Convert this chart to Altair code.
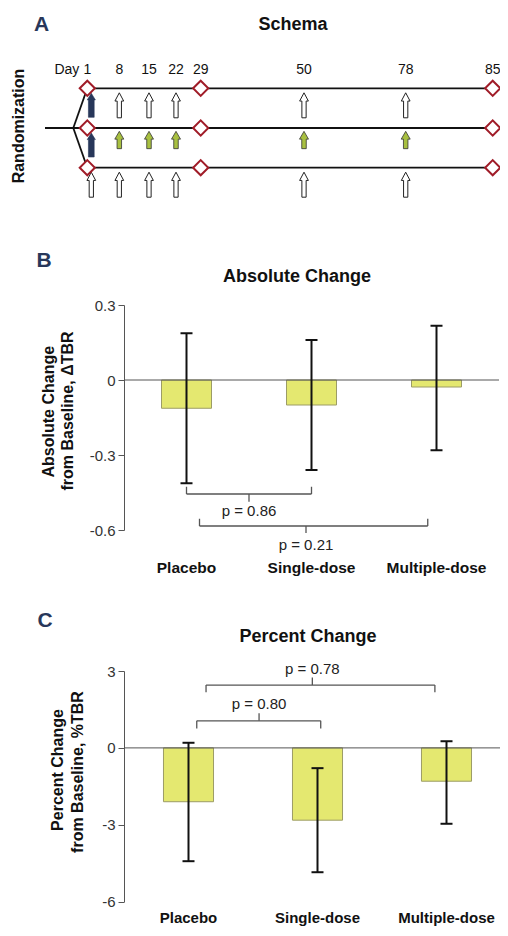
import altair as alt
import pandas as pd

FONT = "Liberation Sans"

# ---------------- Panel A: schema ----------------
schema_days = [1, 8, 15, 22, 29, 50, 78, 85]
arms = ["Single-dose", "Multiple-dose", "Placebo"]      # rows, top to bottom
assessment_days = [1, 29, 85]                            # diamonds
maintenance_days = [8, 15, 22, 50, 78]
loading_day = 1
randomization_day = -10
fork_day = -3

# ---------------- Panel B: absolute change ----------------
categories = ["Placebo", "Single-dose", "Multiple-dose"]
abs_mean = [-0.113, -0.100, -0.028]
abs_low = [-0.413, -0.360, -0.281]
abs_high = [0.187, 0.160, 0.217]
abs_ticks = [0.3, 0, -0.3, -0.6]
abs_p_text = ["p = 0.86", "p = 0.21"]
abs_p_from = [0.0, 0.104]
abs_p_to = [1.0, 1.93]
abs_p_mid = [0.5, 0.956]
abs_p_line = [-0.456, -0.584]
abs_p_end = [-0.427, -0.555]
abs_p_tick = [-0.487, -0.612]
abs_p_label = [-0.524, -0.66]

# ---------------- Panel C: percent change ----------------
pct_mean = [-2.10, -2.82, -1.30]
pct_low = [-4.42, -4.85, -2.96]
pct_high = [0.20, -0.79, 0.26]
pct_ticks = [3, 0, -3, -6]
pct_p_text = ["p = 0.80", "p = 0.78"]
pct_p_from = [0.064, 0.136]
pct_p_to = [1.025, 1.91]
pct_p_mid = [0.547, 0.96]
pct_p_line = [1.056, 2.45]
pct_p_end = [0.76, 2.17]
pct_p_tick = [1.35, 2.75]
pct_p_label = [1.70, 3.09]

# ---------------- styles ----------------
NAVY = "#28375a"
GREEN = "#a8c040"
RED = "#a01c28"
BAR = "#e4e870"
BAR_STROKE = "#9c9c66"
GRAY = "#555555"

WHITE_ARROW = "M-0.17,1 L-0.17,-0.34 L-0.35,-0.34 L0,-1 L0.35,-0.34 L0.17,-0.34 L0.17,1 Z"
GREEN_ARROW = "M-0.26,1 L-0.26,-0.1 L-0.52,-0.1 L0,-1 L0.52,-0.1 L0.26,-0.1 L0.26,1 Z"
NAVY_ARROW = "M-0.24,1 L-0.24,-0.45 L-0.34,-0.45 L0,-1 L0.34,-0.45 L0.24,-0.45 L0.24,1 Z"

# ---------------- Panel A ----------------
ax_scale = alt.Scale(domain=[randomization_day, fork_day] + schema_days,
                     range=[37, 65.3, 79.3, 111.3, 141, 168, 192.7, 296, 397.7, 484.7],
                     zero=False, nice=False)
ay_scale = alt.Scale(domain=[0, len(arms) - 1], range=[80.3, 159.7], zero=False, nice=False)


def AX(f):
    return alt.X(f"{f}:Q", scale=ax_scale, axis=None)


def AY(f):
    return alt.Y(f"{f}:Q", scale=ay_scale, axis=None)


lines_df = pd.DataFrame({
    "x": [loading_day, randomization_day, loading_day, fork_day, fork_day],
    "x2": [schema_days[-1], schema_days[-1], schema_days[-1], loading_day, loading_day],
    "y": [0, 1, 2, 1, 1],
    "y2": [0, 1, 2, 0, 2],
})
lines = alt.Chart(lines_df).mark_rule(color="#111111", strokeWidth=1.8).encode(
    x=AX("x"), x2="x2", y=AY("y"), y2="y2")

diam_df = pd.DataFrame([{"day": d, "row": r} for r in range(len(arms)) for d in assessment_days])
diamonds = alt.Chart(diam_df).mark_point(
    shape="diamond", size=230, filled=True, fill="white", stroke=RED,
    strokeWidth=2, opacity=1).encode(x=AX("day"), y=AY("row"))

white_df = pd.DataFrame([{"day": d, "row": r} for r in (0, 2) for d in maintenance_days])
white_arrows = alt.Chart(white_df).mark_point(
    shape=WHITE_ARROW, size=625, filled=True, fill="white", stroke="#222222",
    strokeWidth=1, opacity=1, yOffset=17).encode(x=AX("day"), y=AY("row"))

white1_df = pd.DataFrame({"day": [loading_day], "row": [2]})
white1_arrows = alt.Chart(white1_df).mark_point(
    shape=WHITE_ARROW, size=625, filled=True, fill="white", stroke="#222222",
    strokeWidth=1, opacity=1, yOffset=17, xOffset=4).encode(x=AX("day"), y=AY("row"))

green_df = pd.DataFrame({"day": maintenance_days, "row": [1] * len(maintenance_days)})
green_arrows = alt.Chart(green_df).mark_point(
    shape=GREEN_ARROW, size=300, filled=True, fill=GREEN, stroke="#333333",
    strokeWidth=0.8, opacity=1, yOffset=12).encode(x=AX("day"), y=AY("row"))

navy_df = pd.DataFrame({"day": [loading_day, loading_day], "row": [0, 1]})
navy_arrows = alt.Chart(navy_df).mark_point(
    shape=NAVY_ARROW, size=576, filled=True, fill=NAVY, stroke=NAVY,
    strokeWidth=0.6, opacity=1, yOffset=17, xOffset=4).encode(x=AX("day"), y=AY("row"))

days_df = pd.DataFrame({"day": schema_days, "row": [0] * len(schema_days),
                        "lab": [str(d) for d in schema_days]})
day_text = alt.Chart(days_df).mark_text(
    font=FONT, fontSize=14, color="#111111", baseline="middle", dy=-18).encode(
    x=AX("day"), y=AY("row"), text="lab:N")
day_word = alt.Chart(pd.DataFrame({"day": [loading_day], "row": [0]})).mark_text(
    font=FONT, fontSize=14, color="#111111", baseline="middle", align="right",
    dy=-18, dx=-8).encode(x=AX("day"), y=AY("row"), text=alt.value("Day"))

panel_a = alt.layer(lines, white_arrows, white1_arrows, green_arrows, navy_arrows,
                    diamonds, day_text, day_word)


# ---------------- Panels B and C ----------------
def bar_panel(mean, low, high, ticks, ptext, pfrom, pto, pmid, pline, pend, ptick,
              plabel, xs, ys, cat_y, half, cat_size):
    idx = list(range(len(categories)))
    bars_df = pd.DataFrame({"cat": categories, "i": idx, "mean": mean,
                            "low": low, "high": high})
    bars_df["l"] = bars_df["i"] - half
    bars_df["r"] = bars_df["i"] + half
    bars_df["zero"] = 0.0
    bars_df["laby"] = cat_y

    yax = alt.Axis(orient="left", offset=-116, values=ticks, labelExpr="'' + datum.value",
                   title=None, grid=False, domainColor=GRAY, tickColor=GRAY,
                   domainWidth=1, tickWidth=1, tickSize=6, labelPadding=3,
                   labelFont=FONT, labelFontSize=15, labelColor="#333333")

    def X(f):
        return alt.X(f"{f}:Q", scale=xs, axis=None)

    def Y(f):
        return alt.Y(f"{f}:Q", scale=ys, axis=yax)

    bars = alt.Chart(bars_df).mark_bar(fill=BAR, stroke=BAR_STROKE, strokeWidth=1).encode(
        x=X("l"), x2="r", y=Y("mean"), y2="zero")

    zero_df = pd.DataFrame({"a": [xs.domain[0]], "b": [xs.domain[1]], "y": [0]})
    zero = alt.Chart(zero_df).mark_rule(color=GRAY, strokeWidth=1).encode(
        x=X("a"), x2="b", y=Y("y"))

    err = alt.Chart(bars_df).mark_rule(color="#111111", strokeWidth=2).encode(
        x=X("i"), y=Y("low"), y2="high")
    cap_lo = alt.Chart(bars_df).mark_rule(color="#111111", strokeWidth=2,
                                          xOffset=-6, x2Offset=6).encode(
        x=X("i"), x2="i", y=Y("low"))
    cap_hi = alt.Chart(bars_df).mark_rule(color="#111111", strokeWidth=2,
                                          xOffset=-6, x2Offset=6).encode(
        x=X("i"), x2="i", y=Y("high"))

    p_df = pd.DataFrame({"txt": ptext, "from": pfrom, "to": pto, "mid": pmid,
                         "line": pline, "end": pend, "tick": ptick, "lab": plabel})
    br_style = dict(color=GRAY, strokeWidth=1.3)
    br_h = alt.Chart(p_df).mark_rule(**br_style).encode(x=X("from"), x2="to", y=Y("line"))
    br_l = alt.Chart(p_df).mark_rule(**br_style).encode(x=X("from"), y=Y("line"), y2="end")
    br_r = alt.Chart(p_df).mark_rule(**br_style).encode(x=X("to"), y=Y("line"), y2="end")
    br_m = alt.Chart(p_df).mark_rule(**br_style).encode(x=X("mid"), y=Y("line"), y2="tick")
    p_txt = alt.Chart(p_df).mark_text(font=FONT, fontSize=15, color="#222222",
                                      baseline="middle").encode(
        x=X("mid"), y=Y("lab"), text="txt:N")

    cat_txt = alt.Chart(bars_df).mark_text(font=FONT, fontSize=cat_size, fontWeight="bold",
                                           color="#111111", baseline="middle").encode(
        x=X("i"), y=Y("laby"), text="cat:N")

    return alt.layer(bars, zero, err, cap_lo, cap_hi, br_h, br_l, br_r, br_m, p_txt, cat_txt)


b_x = alt.Scale(domain=[-0.5, 2.5], range=[116, 491], zero=False, nice=False)
b_y = alt.Scale(domain=[-0.6, 0.3], range=[522, 297], zero=False, nice=False)
c_x = alt.Scale(domain=[-0.5, 2.5], range=[116, 503], zero=False, nice=False)
c_y = alt.Scale(domain=[-6, 3], range=[893.7, 663], zero=False, nice=False)

panel_b = bar_panel(abs_mean, abs_low, abs_high, abs_ticks, abs_p_text, abs_p_from,
                    abs_p_to, abs_p_mid, abs_p_line, abs_p_end, abs_p_tick, abs_p_label,
                    b_x, b_y, -0.752, 0.2, 15.5)
panel_c = bar_panel(pct_mean, pct_low, pct_high, pct_ticks, pct_p_text, pct_p_from,
                    pct_p_to, pct_p_mid, pct_p_line, pct_p_end, pct_p_tick, pct_p_label,
                    c_x, c_y, -6.62, 0.194, 15)

# ---------------- text annotations ----------------
one = pd.DataFrame({"a": [0]})


def label(txt, x, y, size, weight="bold", color="#111111", angle=0):
    return alt.Chart(one).mark_text(font=FONT, fontSize=size, fontWeight=weight,
                                    color=color, angle=angle, baseline="middle",
                                    align="center").encode(
        x=alt.value(x), y=alt.value(y), text=alt.value(txt))


texts = alt.layer(
    label("A", 33.5, 16.5, 21, color=NAVY),
    label("B", 36, 253, 21, color=NAVY),
    label("C", 37, 612.5, 21, color=NAVY),
    label("Schema", 285, 17, 18),
    label("Absolute Change", 289, 268.7, 18),
    label("Percent Change", 300, 628.7, 18),
    label("Randomization", 11, 118, 16, angle=270),
    label("Absolute Change", 41, 403.7, 16, angle=270),
    label("from Baseline, \u0394TBR", 60, 403, 16, angle=270),
    label("Percent Change", 50, 762, 16, angle=270),
    label("from Baseline, %TBR", 70, 764, 16, angle=270),
)

chart = alt.layer(panel_a, panel_b, panel_c, texts).resolve_scale(
    x="independent", y="independent"
).properties(
    width=492, height=920, padding=0, background="white",
    autosize=alt.AutoSizeParams(type="none"),
).configure_view(stroke=None)

chart.save("out.html", embed_options={"renderer": "svg", "actions": False})
